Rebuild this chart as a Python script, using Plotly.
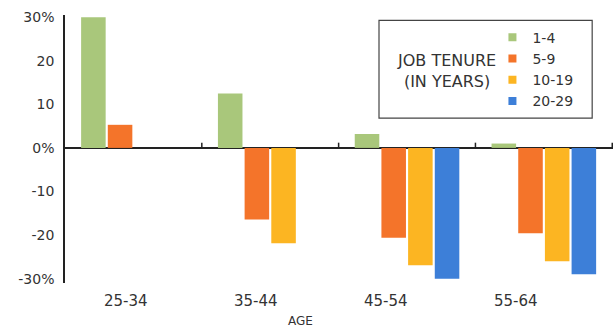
import plotly.graph_objects as go

ages = ["25-34", "35-44", "45-54", "55-64"]
tenure_names = ["1-4", "5-9", "10-19", "20-29"]
v_1_4 = [30, 12.5, 3.2, 1.0]
v_5_9 = [5.3, -16.4, -20.6, -19.6]
v_10_19 = [None, -21.9, -26.9, -26.0]
v_20_29 = [None, None, -30.0, -29.0]
colors = ["#a9c77b", "#f4742a", "#fcb522", "#3d7fd8"]
y_tickvals = [30, 20, 10, 0, -10, -20, -30]
y_ticktext = ["30%", "20", "10", "0%", "-10", "-20", "-30%"]

FONT = "'DejaVu Sans', Verdana, sans-serif"
TXT = "#333333"

fig = go.Figure()
for name, vals, col in zip(tenure_names, [v_1_4, v_5_9, v_10_19, v_20_29], colors):
    fig.add_trace(go.Bar(x=ages, y=vals, name=name, showlegend=False,
                         marker=dict(color=col, line=dict(width=0))))
# small square legend markers
for name, col in zip(tenure_names, colors):
    fig.add_trace(go.Scatter(x=[None], y=[None], mode="markers", name=name,
                             marker=dict(symbol="square", size=8, color=col)))

# boundary ticks on zero line
shapes = []
for i in range(len(ages)):
    shapes.append(dict(type="line", xref="x", yref="y", x0=i + 0.5, x1=i + 0.5, y0=0, y1=1.2,
                       line=dict(color="#222", width=1.5)))
# legend box
shapes.append(dict(type="rect", xref="paper", yref="paper", x0=0.573, x1=0.962, y0=0.615, y1=0.98,
                   line=dict(color="#444", width=1.2)))

annotations = []
for i, a in enumerate(ages):
    annotations.append(dict(x=a, y=0, xref="x", yref="paper", yshift=-29, xshift=-7 * (i + 1),
                            text=a, showarrow=False, font=dict(family=FONT, size=15, color=TXT)))
annotations.append(dict(x=0.43, y=0, xref="paper", yref="paper", yshift=-47, text="AGE", showarrow=False,
                        font=dict(family=FONT, size=12, color=TXT)))
annotations.append(dict(x=0.79, y=0.79, xref="paper", yref="paper", xanchor="right", yanchor="middle",
                        text="JOB TENURE<br>(IN YEARS)", showarrow=False, align="center",
                        font=dict(family=FONT, size=16, color=TXT)))

fig.update_layout(
    width=615, height=332,
    margin=dict(l=65, r=2, t=15, b=49),
    paper_bgcolor="white", plot_bgcolor="white",
    barmode="group", bargap=0.22, bargroupgap=0.08,
    font=dict(family=FONT, size=14, color=TXT),
    xaxis=dict(showticklabels=False, showline=False, showgrid=False, zeroline=False, ticks=""),
    yaxis=dict(range=[-31, 30.5], tickvals=y_tickvals, ticktext=y_ticktext, showgrid=False,
               zeroline=True, zerolinecolor="#222", zerolinewidth=1.5,
               showline=True, linecolor="#222", linewidth=1.5, ticks="",
               tickfont=dict(family=FONT, size=14, color=TXT), ticklabelstandoff=6),
    showlegend=True,
    legend=dict(x=0.78, y=0.975, xanchor="left", yanchor="top", bgcolor="rgba(0,0,0,0)",
                font=dict(family=FONT, size=14, color=TXT), itemwidth=30, tracegroupgap=0,
                traceorder="normal"),
    shapes=shapes, annotations=annotations,
)
fig.write_html("out.html")
